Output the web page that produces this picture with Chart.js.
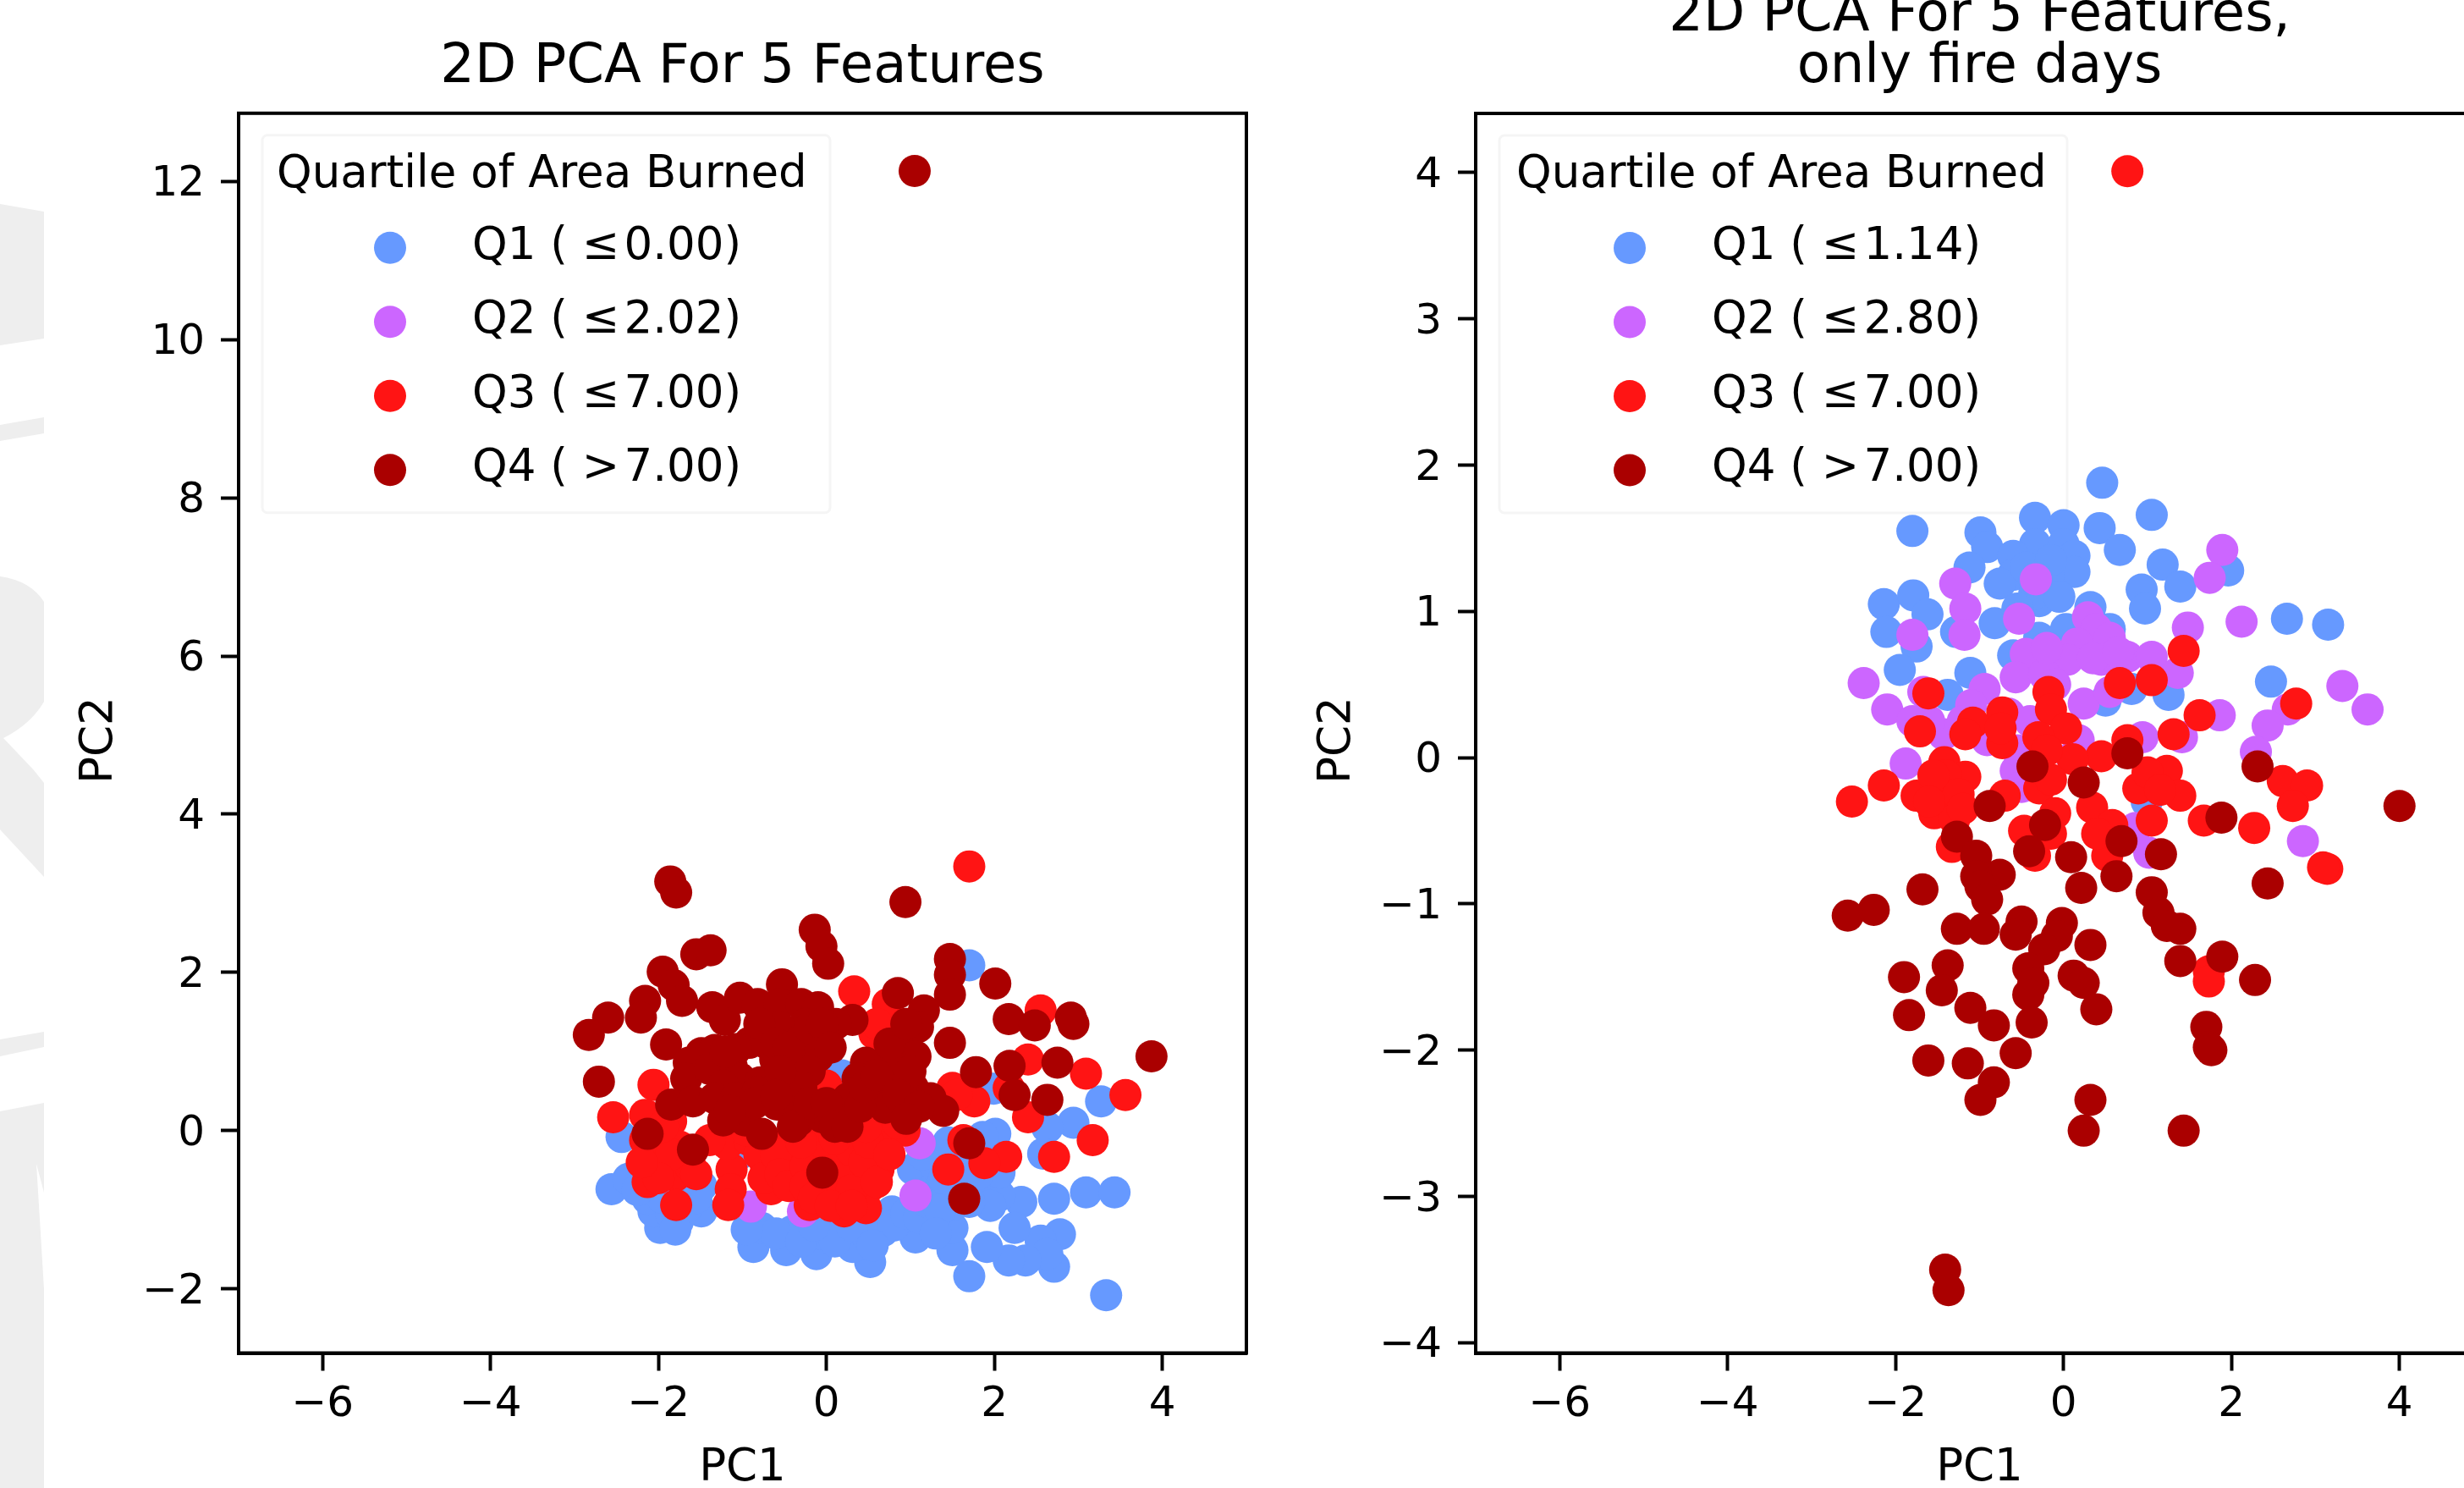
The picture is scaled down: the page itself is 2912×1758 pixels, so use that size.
<!DOCTYPE html>
<html>
<head>
<meta charset="utf-8">
<script src="https://cdn.jsdelivr.net/npm/chart.js@4"></script>
<style>
html, body { margin: 0; padding: 0; background: #fff; width: 2912px; height: 1758px; overflow: hidden; }
#mark { position: absolute; left: 0; top: 0; }
canvas { position: absolute; top: -60px; }
#pcaAll { left: 0; }
#pcaFire { left: 1500px; }
</style>
</head>
<body>
<svg id="mark" width="60" height="1758">
  <g fill="#eeeeee">
    <path d="M0 241 L52 250 L52 400 L0 408 Z"/>
    <path d="M0 502 L52 493 L52 512 L0 521 Z"/>
    <path d="M0 681 Q36 686 52 711 L52 829 Q36 856 4 872 L40 910 L52 925 L52 1036 L0 980 Z"/>
    <path d="M0 1228 L52 1219 L52 1237 L0 1248 Z"/>
    <path d="M0 1313 L52 1303 L52 1409 L43 1375 L52 1523 L52 1758 L0 1758 Z"/>
  </g>
</svg>
<canvas id="pcaAll" width="1500" height="1822"></canvas>
<canvas id="pcaFire" width="1500" height="1822"></canvas>
<script>
const quartiles = ['Q1', 'Q2', 'Q3', 'Q4'];
const colors = ['#6699ff', '#cc66ff', '#ff1414', '#aa0000'];
const legendTitle = 'Quartile of Area Burned';
const allLabels = ['Q1 ( ≤\u200A0.00)', 'Q2 ( ≤\u200A2.02)', 'Q3 ( ≤\u200A7.00)', 'Q4 ( >\u200A7.00)'];
const fireLabels = ['Q1 ( ≤\u200A1.14)', 'Q2 ( ≤\u200A2.80)', 'Q3 ( ≤\u200A7.00)', 'Q4 ( >\u200A7.00)'];
const xTicks = [-6, -4, -2, 0, 2, 4];
const allYTicks = [-2, 0, 2, 4, 6, 8, 10, 12];
const fireYTicks = [-4, -3, -2, -1, 0, 1, 2, 3, 4];

// [pc1, pc2]
const allQ1 = [[3.33,-2.08],[1.70,-1.84],[0.52,-1.66],[2.71,-1.72],[2.71,-0.86],[3.09,-0.78],[3.43,-0.78],[2.78,-1.31],[2.55,-1.39],[2.63,-1.56],[2.37,-1.64],[2.17,-1.64],[1.91,-1.47],[2.32,-0.90],[2.24,-1.23],[2.06,-0.82],[2.06,-0.53],[1.50,-1.51],[1.50,-1.23],[1.50,-0.94],[1.06,-1.35],[0.67,-1.27],[0.31,-1.47],[0.47,-1.31],[-0.12,-1.56],[-0.48,-1.51],[-0.87,-1.47],[-0.05,-1.31],[-0.41,-1.27],[-0.77,-1.23],[-1.98,-1.23],[-1.77,-1.15],[-2.06,-1.02],[-1.49,-1.02],[-1.49,-0.70],[-2.13,-0.86],[-2.56,-0.74],[-2.36,-0.61],[-2.44,-0.08],[3.27,0.37],[2.94,0.10],[2.63,0.04],[2.58,-0.29],[2.01,-0.04],[1.86,-0.08],[1.70,2.09],[1.99,0.53],[0.18,0.70],[1.34,-0.29],[1.03,-0.49],[1.76,-0.70],[1.29,-0.70],[0.78,-1.02],[-1.03,-0.29],[0.52,-0.25],[0.11,-1.27],
  [-0.60,-1.30],[-0.30,-1.40],[0.10,-1.40],[0.30,-1.20],[-0.15,-1.20],[0.80,-1.20],[0.95,-1.05],[1.10,-1.10],[1.20,-0.90],[1.30,-0.45],[1.15,-0.30],[1.45,-0.15],[1.60,-0.45],[1.80,-0.55],[1.95,-0.95],[1.70,-0.90],[1.35,-1.00],[-1.85,-1.05],[-1.65,-0.95],[-1.95,-0.85],[-1.80,-1.25],[-1.55,-0.85],[-2.25,-0.75],[-0.95,-1.25],[0.55,-1.45],[1.30,-1.30],[1.40,-0.60]];
const allQ2 = [[1.06,-0.82],[1.11,-0.16],[-0.90,-0.96],[-0.10,-0.85],[-0.28,-1.02]];
const allQ3 = [[1.70,3.34],[0.33,1.76],[0.73,1.60],[0.57,1.23],[2.55,1.52],[2.40,0.90],[3.09,0.72],[3.56,0.45],[3.17,-0.12],[2.71,-0.33],[2.14,-0.33],[1.88,-0.41],[1.45,-0.49],[1.63,-0.12],[2.40,0.17],[2.17,0.54],[1.76,0.37],[1.50,0.54],[-2.06,0.58],[-2.54,0.17],[-2.16,0.20],[-1.85,0.12],[-2.16,-0.12],[-1.75,-0.20],[-2.11,-0.37],[-2.13,-0.65],[-1.80,-0.57],[-1.62,-0.45],[-1.79,-0.94],[-1.13,-0.49],[-1.14,-0.74],[-1.17,-0.94],[-1.18,-0.17],[-0.72,-0.45],[-0.66,-0.74],[-0.41,-0.29],[-0.20,-0.94],[-0.10,-0.29],[-0.36,-0.62],[0.21,-1.02],[0.11,-0.29],[0.42,-0.86],[0.52,-0.70],[0.62,-0.49],[0.67,-0.08],[0.93,0],[0.42,-0.08],[-0.10,-0.82],[0.11,-0.82],[-0.20,-0.08],[-0.56,-0.17],[-0.92,-0.12],[-1.39,-0.12],[0,0.57],[0.83,0.57],[0.47,-0.98],
  [-0.80,-0.30],[-0.75,-0.60],[-0.60,-0.30],[-0.55,-0.55],[-0.45,-0.70],[-0.25,-0.45],[-0.25,-0.70],[-0.05,-0.55],[-0.05,-0.15],[0.10,-0.60],[0.15,-0.45],[0.30,-0.55],[0.30,-0.25],[0.30,-0.75],[0.45,-0.40],[0.50,-0.15],[0.10,-0.10],[-0.15,-0.85],[0.05,-0.95],[0.30,-0.95],[0.60,-0.65],[0.75,-0.30],[-0.30,-0.15],[0.85,0.10],[-1.55,-0.55],[-1.85,-0.30],[-2.00,-0.60],[-2.20,-0.40],[-1.95,0.05],[-0.95,0],[1.55,0.45],[0.60,1.35],[0.47,0.05]];
const allQ4 = [[1.05,12.13],[-1.86,3.15],[-1.79,3.01],[0.94,2.89],[-0.14,2.54],[-0.06,2.33],[0.02,2.11],[-1.55,2.23],[-1.38,2.28],[-1.95,2.01],[-1.82,1.84],[-1.72,1.64],[-2.16,1.64],[-2.21,1.43],[-2.60,1.43],[-2.83,1.21],[-1.91,1.09],[-2.71,0.62],[1.47,2.17],[1.47,1.97],[1.47,1.72],[2.01,1.86],[2.17,1.41],[2.48,1.33],[2.91,1.43],[2.94,1.35],[1.47,1.11],[2.75,0.86],[3.87,0.94],[2.18,0.82],[1.78,0.74],[2.24,0.45],[2.63,0.39],[0.85,1.74],[1.16,1.52],[1.09,1.31],[0.93,1.19],[0.88,1.03],[1.06,0.94],[0.78,0.86],[0.47,0.86],[0.37,0.66],[0.26,0.41],[0.67,0.58],[1.03,0.54],[1.24,0.41],[1.39,0.25],[0.70,0.29],[0.21,0.21],[-0.05,0.17],[-0.33,0.13],[-0.46,0.29],[-1.36,1.56],[-1.21,1.40],[-1.03,1.68],[-0.82,1.60],[-0.53,1.85],[-0.56,1.60],[-0.30,1.60],[-0.10,1.56],[0.31,1.40],[0.11,1.35],[-0.25,1.35],[-0.56,1.31],[-0.92,1.11],[-0.72,1.11],[-0.30,1.15],[0,1.15],[-0.10,0.94],[-0.41,0.86],[-0.61,0.90],[-0.46,0.61],[-1.08,1.03],[-1.13,0.82],[-1.49,0.98],[-1.33,1.02],[-1.64,0.86],[-1.67,0.66],[-1.39,0.78],[-1.03,0.66],[-0.79,0.61],[-1.23,0.57],[-1.85,0.33],[-1.59,0.37],[-1.33,0.41],[-1.08,0.41],[-0.82,0.49],[-1.23,0.13],[-0.97,0.13],[-0.77,-0.04],[-0.59,0.33],[-2.13,-0.04],[-1.59,-0.24],[-0.05,-0.53],[1.70,-0.16],[1.64,-0.86],
  [-0.80,1.35],[-0.60,1.10],[-0.45,1.05],[-0.20,1.30],[-0.05,1.35],[0.05,1.05],[-0.20,0.75],[-0.30,0.55],[-0.55,0.75],[-0.85,0.35],[-1.15,0.25],[-1.20,1.00],[-0.60,0.45],[-0.40,0.05],[-0.20,0.35],[0,0.35],[0.10,0.05],[0.25,0.05],[0.40,0.30],[0.45,0.55],[0.60,0.70],[0.75,1.10],[0.95,1.35],[1.00,0.75],[0.85,0.45],[1.10,0.30],[0.95,0.15]];

// [pc1, pc2]
const fireQ1 = [[0.46,1.88],[1.05,1.66],[0.43,1.57],[0.67,1.42],[-1.80,1.55],[-0.34,1.64],[0,1.59],[-0.99,1.54],[-0.91,1.44],[-1.12,1.30],[-0.34,1.46],[0,1.46],[0.13,1.38],[-0.60,1.38],[-0.60,1.25],[0.13,1.27],[-0.18,1.25],[-0.76,1.19],[-0.29,1.07],[-0.82,0.92],[1.18,1.32],[1.39,1.17],[0.93,1.15],[0.97,1.02],[1.96,1.28],[-2.14,1.05],[-1.79,1.11],[-1.62,0.98],[-2.11,0.86],[-1.75,0.76],[-1.95,0.60],[-1.11,0.58],[-1.38,0.43],[-1.28,0.86],[0.32,1.03],[-0.29,0.82],[0.03,0.88],[0.55,0.88],[-0.60,0.70],[2.66,0.95],[3.15,0.91],[2.47,0.52],[1.25,0.43],[0.81,0.47],[0.50,0.39],[0.99,-0.30],
  [-0.45,1.30],[-0.15,1.35],[-0.35,1.12],[-0.05,1.10],[-0.55,1.02]];
const fireQ2 = [[1.89,1.42],[1.74,1.23],[-0.33,1.22],[-1.29,1.19],[-1.17,1.02],[-1.18,0.84],[-1.80,0.84],[-0.53,0.95],[0.29,0.96],[0.39,0.88],[0.55,0.82],[0.16,0.78],[0.05,0.67],[-0.45,0.71],[0.45,0.67],[0.76,0.69],[1.05,0.69],[1.36,0.58],[1.48,0.89],[2.12,0.93],[-0.57,0.55],[-0.23,0.57],[-2.38,0.51],[-2.10,0.33],[-1.67,0.45],[-0.94,0.47],[-1.10,0.36],[-1.80,0.25],[-1.43,0.16],[0.24,0.37],[0.55,0.45],[0.94,0.14],[1.86,0.29],[1.41,0.14],[3.32,0.49],[3.62,0.33],[2.67,0.33],[2.43,0.22],[2.29,0.04],[-1.88,-0.04],[2.85,-0.57],[-0.57,-0.09],[0.18,0.12],[-0.91,0.12],[1.02,-0.65],[0.86,-0.48],
  [-0.20,0.75],[-0.10,0.50],[0.35,0.68],[0.65,0.72],[-0.65,0.30],[-0.40,0.25],[-0.75,0.12],[-1.20,0.25],[-1.60,0.25],[-0.55,0.05],[-0.50,-0.20],[0.10,0]];
const fireQ3 = [[0.76,4.01],[1.43,0.73],[0.67,0.51],[1.05,0.53],[-1.61,0.44],[-0.18,0.45],[-0.15,0.33],[-0.73,0.31],[-1.08,0.24],[-1.71,0.18],[-1.17,0.16],[-0.73,0.10],[0.03,0.20],[-0.30,0.14],[1.62,0.29],[1.31,0.16],[0.76,0.12],[0.45,0.01],[0.11,-0.01],[1.23,-0.09],[0.89,-0.21],[1.39,-0.26],[-1.42,-0.03],[-1.17,-0.13],[-1.42,-0.19],[-2.14,-0.19],[-2.52,-0.30],[-1.75,-0.26],[-1.54,-0.38],[-1.30,-0.42],[-1.33,-0.61],[-0.70,-0.26],[-0.29,-0.21],[-0.10,-0.38],[-0.47,-0.50],[-0.34,-0.67],[0.34,-0.34],[0.58,-0.46],[0.52,-0.67],[1.05,-0.43],[1.67,-0.43],[2.27,-0.48],[2.61,-0.16],[2.90,-0.19],[2.73,-0.33],[3.14,-0.76],[3.09,-0.75],[2.77,0.37],[1.73,-1.46],[1.73,-1.53],
  [-1.40,-0.12],[-1.25,-0.25],[-1.55,-0.12],[-1.60,-0.30],[-1.20,-0.35],[-0.15,-0.15],[-0.15,-0.52],[-0.20,0.05],[-0.75,0.20],[0.40,-0.52],[1.00,-0.10],[1.15,-0.22]];
const fireQ4 = [[-0.37,-0.06],[0.76,0.03],[0.24,-0.17],[2.31,-0.06],[-0.88,-0.33],[1.88,-0.41],[4.00,-0.33],[-0.22,-0.46],[-1.27,-0.54],[0.69,-0.57],[1.16,-0.66],[-0.41,-0.64],[0.09,-0.68],[-1.04,-0.67],[0.63,-0.81],[0.21,-0.89],[2.43,-0.86],[-1.68,-0.90],[-0.76,-0.80],[-1.04,-0.81],[-0.99,-0.88],[-0.91,-0.97],[1.05,-0.92],[1.13,-1.06],[1.39,-1.17],[1.23,-1.15],[-2.26,-1.04],[-2.57,-1.08],[-1.27,-1.17],[-0.95,-1.17],[-0.50,-1.12],[-0.57,-1.21],[-0.02,-1.13],[-0.08,-1.22],[0.32,-1.28],[-0.23,-1.31],[-0.42,-1.44],[-0.36,-1.54],[-0.42,-1.62],[-0.38,-1.81],[0.12,-1.49],[0.24,-1.54],[0.39,-1.72],[1.39,-1.39],[1.89,-1.36],[2.28,-1.52],[-1.38,-1.42],[-1.45,-1.59],[-1.90,-1.50],[-1.84,-1.76],[-1.11,-1.71],[-0.83,-1.83],[-0.57,-2.02],[-1.61,-2.07],[-1.14,-2.09],[-0.83,-2.22],[-0.99,-2.34],[0.32,-2.34],[0.24,-2.55],[1.43,-2.55],[1.70,-1.84],[1.73,-1.98],[1.76,-2.00],[-1.41,-3.50],[-1.37,-3.64]];

const FONT = '"DejaVu Sans"';

const frameAndLegend = {
  id: 'frameAndLegend',
  // the scatter sits on top of the legend box in the original
  beforeDatasetsDraw(chart, args, opts) {
    const a = chart.chartArea, c = chart.ctx, dx = opts.dx;
    c.save();
    const bx = a.left + 28, by = a.top + 26;
    c.fillStyle = 'rgba(255,255,255,0.8)';
    c.strokeStyle = '#f5f5f5';
    c.lineWidth = 3;
    c.beginPath();
    c.roundRect(bx, by, 671, 446, 6);
    c.fill();
    c.stroke();
    c.fillStyle = '#000';
    c.textBaseline = 'middle';
    c.font = '53px ' + FONT;
    c.fillText(legendTitle, a.left + 45 + dx, a.top + 73);
    opts.labels.forEach((t, i) => {
      const y = a.top + 159 + i * 87.5;
      c.fillStyle = colors[i];
      c.beginPath();
      c.arc(a.left + 179 + dx, y, 19, 0, Math.PI * 2);
      c.fill();
      c.fillStyle = '#000';
      c.fillText(t, a.left + 276 + dx, y - 1);
    });
    c.restore();
  },
  afterDraw(chart) {
    const a = chart.chartArea, c = chart.ctx;
    c.save();
    c.strokeStyle = '#000';
    c.lineWidth = 4;
    c.strokeRect(a.left, a.top, a.right - a.left, a.bottom - a.top);
    c.restore();
  }
};

function makeChart(id, series, labels, legendDx, yMin, yMax, yTicks, title, titlePad, padLeft, plotLeft, padRight) {
  const sets = series.map((pts, i) => ({
    label: quartiles[i],
    data: pts.map(p => ({ x: p[0], y: p[1] })),
    backgroundColor: colors[i],
    borderWidth: 0,
    pointRadius: 19,
    pointHoverRadius: 19,
    order: 4 - i
  }));
  return new Chart(document.getElementById(id), {
    type: 'scatter',
    data: { datasets: sets },
    plugins: [frameAndLegend],
    options: {
      responsive: false,
      animation: false,
      devicePixelRatio: 1,
      layout: { padding: { left: padLeft, right: padRight, top: 0, bottom: 0 } },
      plugins: {
        legend: { display: false },
        tooltip: { enabled: false },
        title: {
          display: true,
          text: title,
          color: '#000',
          fullSize: false,
          font: { family: FONT, size: 64, weight: 'normal', lineHeight: 0.95 },
          padding: titlePad
        },
        frameAndLegend: { labels: labels, dx: legendDx }
      },
      scales: {
        x: {
          min: -7,
          max: 5,
          afterBuildTicks: s => { s.ticks = xTicks.map(v => ({ value: v })); },
          afterFit: s => { s.height = 1822 - 1658.5; },
          grid: { drawOnChartArea: false, tickLength: 21, tickWidth: 4, tickColor: '#000' },
          border: { color: '#000', width: 4 },
          ticks: {
            autoSkip: false, maxRotation: 0, minRotation: 0, padding: 11, color: '#000',
            font: { family: FONT, size: 50 },
            callback: v => String(v).replace('-', '\u2212')
          },
          title: { display: true, text: 'PC1', color: '#000', font: { family: FONT, size: 53, lineHeight: 1 }, padding: 0 }
        },
        y: {
          min: yMin,
          max: yMax,
          afterBuildTicks: s => { s.ticks = yTicks.map(v => ({ value: v })); },
          afterFit: s => { s.width = plotLeft - padLeft; },
          grid: { drawOnChartArea: false, tickLength: 21, tickWidth: 4, tickColor: '#000' },
          border: { color: '#000', width: 4 },
          ticks: {
            autoSkip: false, padding: 19, labelOffset: 4, color: '#000',
            font: { family: FONT, size: 50 },
            callback: v => String(v).replace('-', '\u2212')
          },
          title: { display: true, text: 'PC2 ', color: '#000', font: { family: FONT, size: 53, lineHeight: 1 }, padding: 0 }
        }
      }
    }
  });
}

makeChart('pcaAll', [allQ1, allQ2, allQ3, allQ4], allLabels, 0, -2.81, 12.86, allYTicks,
  '2D PCA For 5 Features', { top: 110, bottom: 23 }, 92, 282, 27);
makeChart('pcaFire', [fireQ1, fireQ2, fireQ3, fireQ4], fireLabels, 3, -4.07, 4.405, fireYTicks,
  ['2D PCA For 5 Features,', 'only fire days'], { top: 49, bottom: 23.4 }, 55, 244, 65);
</script>
</body>
</html>
